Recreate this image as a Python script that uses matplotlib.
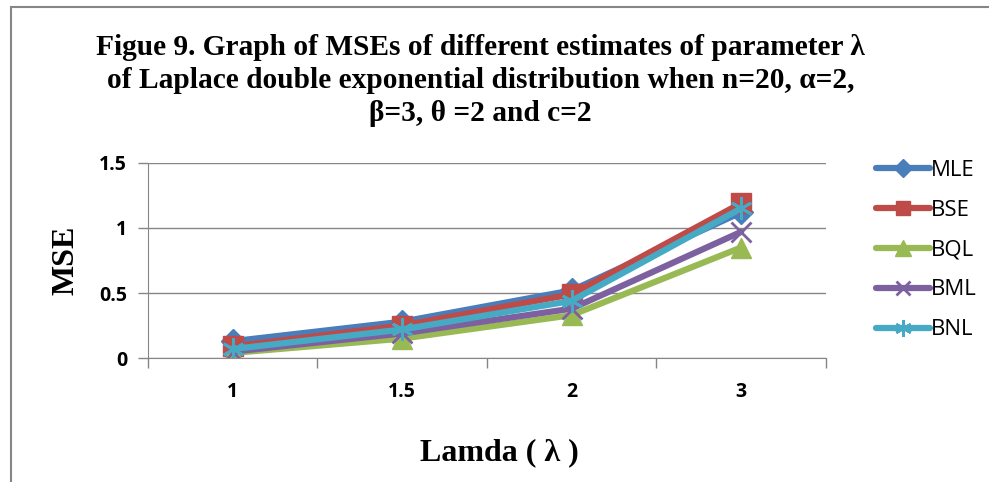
import matplotlib.pyplot as plt
from matplotlib.patches import Rectangle

lam_labels = ['1', '1.5', '2', '3']
mle = [0.13, 0.28, 0.52, 1.12]
bse = [0.09, 0.25, 0.49, 1.19]
bql = [0.04, 0.15, 0.33, 0.85]
bml = [0.05, 0.19, 0.38, 0.97]
bnl = [0.07, 0.22, 0.44, 1.15]

series = [
    ('MLE', mle, '#4a7ebb', 'D', 12),
    ('BSE', bse, '#be4b48', 's', 14),
    ('BQL', bql, '#98b954', '^', 15),
    ('BML', bml, '#7d60a0', 'x', 14),
    ('BNL', bnl, '#46aac5', (6, 2, 0), 16),
]


def main():
    fig = plt.figure(figsize=(9.89, 4.82), dpi=100)
    ax = fig.add_axes([0.1496, 0.257, 0.6854, 0.405])

    x = list(range(len(lam_labels)))
    for name, vals, color, marker, ms in series:
        ax.plot(x, vals, color=color, lw=4.5, marker=marker, ms=ms,
                mec=color, mfc=color, mew=2 if marker in ('x', (6, 2, 0)) else 1,
                label=name, solid_capstyle='round')

    ax.set_xlim(-0.5, 3.5)
    ax.set_ylim(0, 1.5)
    ax.set_yticks([0, 0.5, 1, 1.5])
    ax.set_yticklabels(['0', '0.5', '1', '1.5'])
    ax.set_xticks([-0.5, 0.5, 1.5, 2.5, 3.5])
    ax.set_xticklabels([])
    ax.set_xticks(x, minor=True)
    ax.set_xticklabels(lam_labels, minor=True)
    ax.tick_params(axis='x', which='major', length=7, color='#868686', width=1)
    ax.tick_params(axis='x', which='minor', length=0, pad=17)
    ax.tick_params(axis='y', length=7, color='#868686', width=1, pad=8)
    for lbl in ax.get_xticklabels(minor=True) + ax.get_yticklabels():
        lbl.set_fontfamily('Open Sans')
        lbl.set_fontweight('bold')
        lbl.set_fontsize(14)

    ax.grid(axis='y', color='#868686', lw=1)
    ax.set_axisbelow(True)
    for s in ['top', 'right']:
        ax.spines[s].set_visible(False)
    for s in ['left', 'bottom']:
        ax.spines[s].set_color('#868686')

    ax.set_ylabel('MSE', family='Liberation Serif', fontweight='bold',
                  fontsize=23)
    ax.yaxis.set_label_coords(-0.1, 0.5)
    ax.set_xlabel('Lamda ( λ )', family='Liberation Serif', fontweight='bold',
                  fontsize=23)
    ax.xaxis.set_label_coords(0.518, -0.41)

    fig.text(0.486, 0.93,
             'Figue 9. Graph of MSEs of different estimates of parameter λ\n'
             'of Laplace double exponential distribution when n=20, α=2,\n'
             'β=3, θ =2 and c=2',
             ha='center', va='top', family='Liberation Serif',
             fontweight='bold', fontsize=21.2, linespacing=1.3)

    fig.legend(loc='upper left', bbox_to_anchor=(0.866, 0.71),
               frameon=False, prop={'family': 'Open Sans', 'size': 16},
               handlelength=2.4, handletextpad=0.05, labelspacing=0.85,
               markerscale=0.75)

    fig.patches.append(Rectangle((11 / 989, -0.1), 1.2, 1 - 7 / 482 + 0.1,
                                 transform=fig.transFigure, fill=False,
                                 edgecolor='#868686', lw=1.5))

    fig.savefig('out.png', dpi=100)


if __name__ == '__main__':
    main()
